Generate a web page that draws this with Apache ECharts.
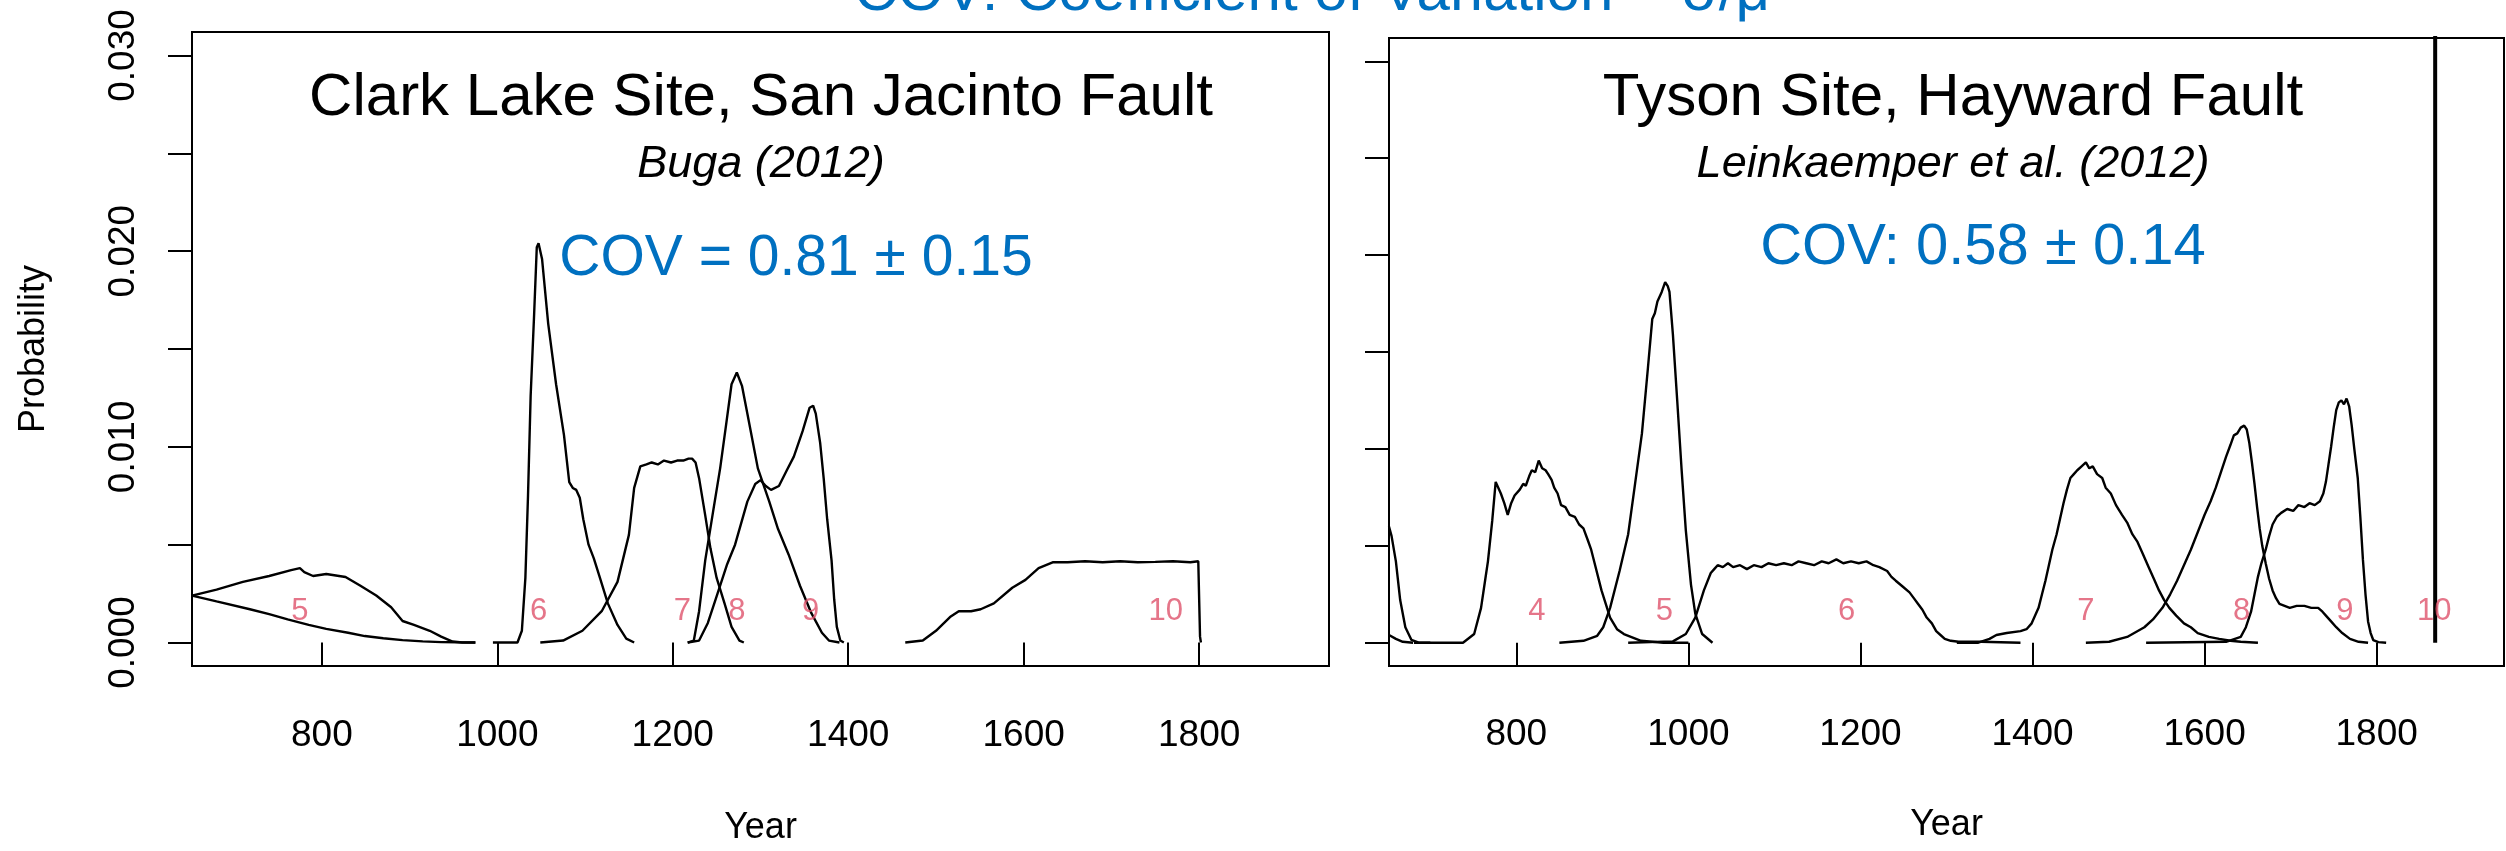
<!DOCTYPE html>
<html>
<head>
<meta charset="utf-8">
<script src="https://cdn.jsdelivr.net/npm/echarts@6/dist/echarts.min.js"></script>
<style>
  html, body { margin: 0; padding: 0; background: #ffffff; }
  #chart { width: 2506px; height: 851px; }
</style>
</head>
<body>
<div id="chart"></div>
<script>
// Axis ticks and labels
const yearTicks = [800, 1000, 1200, 1400, 1600, 1800];
const probTicks = [0, 0.005, 0.010, 0.015, 0.020, 0.025, 0.030];
const probLabels = [0, 0.010, 0.020, 0.030];

// Clark Lake site, San Jacinto fault: event date probability curves
const clark5aYears = [652, 680, 710, 740, 765, 775, 780, 790, 805, 827, 844, 862, 879, 892, 905, 923, 936, 949, 960, 975];
const clark5aProbs = [0.0024, 0.0027, 0.0031, 0.0034, 0.0037, 0.0038, 0.0036, 0.0034, 0.0035, 0.00335, 0.0029, 0.0024, 0.0018, 0.0011, 0.0009, 0.0006, 0.0003, 0.00005, 0, 0];
const clark5bYears = [652, 680, 718, 740, 761, 785, 805, 830, 849, 870, 892, 915, 936, 955, 975];
const clark5bProbs = [0.0024, 0.0021, 0.0017, 0.00145, 0.00118, 0.0009, 0.0007, 0.0005, 0.00033, 0.00022, 0.00012, 0.00006, 0.00002, 0.00001, 0];
const clark6Years = [995, 1023, 1028, 1032, 1035, 1038, 1042, 1045, 1047, 1051, 1058, 1067, 1076, 1082, 1086, 1090, 1094, 1098, 1104, 1110, 1117, 1126, 1137, 1147, 1156];
const clark6Probs = [0, 0, 0.0006, 0.0033, 0.0075, 0.0126, 0.0168, 0.0202, 0.0204, 0.0196, 0.0163, 0.0132, 0.0106, 0.0082, 0.0079, 0.0078, 0.0074, 0.0063, 0.0050, 0.0043, 0.0033, 0.0020, 0.0009, 0.0002, 0];
const clark7Years = [1049, 1075, 1097, 1119, 1137, 1150, 1156, 1163, 1170, 1176, 1183, 1190, 1198, 1205, 1212, 1218, 1222, 1226, 1230, 1237, 1243, 1250, 1259, 1267, 1276, 1281];
const clark7Probs = [0, 0.0001, 0.0006, 0.0016, 0.0031, 0.0055, 0.0079, 0.0090, 0.0091, 0.0092, 0.0091, 0.0093, 0.0092, 0.0093, 0.0093, 0.0094, 0.0094, 0.0092, 0.0084, 0.0065, 0.0048, 0.0033, 0.0020, 0.0008, 0.0001, 0];
const clark8Years = [1217, 1224, 1230, 1237, 1246, 1254, 1261, 1267, 1273, 1279, 1285, 1297, 1310, 1320, 1332, 1345, 1358, 1370, 1378, 1390];
const clark8Probs = [0, 0.0001, 0.0016, 0.0042, 0.0067, 0.0089, 0.0112, 0.0132, 0.0138, 0.0131, 0.0117, 0.0089, 0.0072, 0.0058, 0.0045, 0.0029, 0.0015, 0.0005, 0.0001, 0];
const clark9Years = [1217, 1230, 1240, 1251, 1262, 1271, 1285, 1294, 1300, 1306, 1312, 1321, 1330, 1338, 1348, 1356, 1360, 1363, 1368, 1372, 1376, 1381, 1384, 1387, 1391, 1395];
const clark9Probs = [0, 0.0001, 0.0010, 0.0025, 0.0040, 0.0050, 0.0072, 0.0081, 0.0083, 0.0080, 0.0078, 0.0080, 0.0088, 0.0095, 0.0108, 0.0120, 0.0121, 0.0117, 0.0102, 0.0084, 0.0063, 0.0042, 0.0022, 0.0008, 0.0001, 0];
const clark10Years = [1465, 1485, 1500, 1516, 1526, 1540, 1551, 1566, 1587, 1602, 1617, 1633, 1650, 1670, 1690, 1710, 1730, 1750, 1770, 1790, 1799, 1801, 1802];
const clark10Probs = [0, 0.0001, 0.0006, 0.0013, 0.0016, 0.0016, 0.0017, 0.0020, 0.0028, 0.0032, 0.0038, 0.0041, 0.0041, 0.00415, 0.0041, 0.00415, 0.0041, 0.00412, 0.00415, 0.0041, 0.00415, 0.0003, 0];
const clarkLabelYears = [775, 1047, 1211, 1273, 1357, 1762];
const clarkLabelNames = ['5', '6', '7', '8', '9', '10'];

// Tyson site, Hayward fault: event date probability curves
const tyson2Years = [652, 660, 668, 680];
const tyson2Probs = [0.0004, 0.0002, 0.00005, 0];
const tyson3Years = [652, 655, 660, 665, 671, 678, 686, 700];
const tyson3Probs = [0.0060, 0.0055, 0.0042, 0.0022, 0.0008, 0.00015, 0.00002, 0];
const tyson4Years = [681, 738, 751, 759, 764, 767, 772, 776, 779, 782, 786, 790, 794, 798, 804, 808, 811, 815, 818, 822, 826, 830, 834, 837, 841, 844, 848, 852, 857, 862, 868, 873, 878, 883, 887, 891, 899, 909, 917, 925, 945, 971, 1000];
const tyson4Probs = [0, 0, 0.00045, 0.0018, 0.0033, 0.0042, 0.0063, 0.0083, 0.0080, 0.0077, 0.0072, 0.0066, 0.0072, 0.0076, 0.0079, 0.0082, 0.0081, 0.0086, 0.0089, 0.0088, 0.0094, 0.0090, 0.0089, 0.0087, 0.0084, 0.0080, 0.0077, 0.0071, 0.0070, 0.0066, 0.0065, 0.0061, 0.0059, 0.0053, 0.0048, 0.0041, 0.0027, 0.0013, 0.0007, 0.00045, 0.0001, 0, 0];
const tyson5Years = [850, 878, 894, 901, 909, 920, 930, 938, 946, 953, 958, 961, 964, 969, 971, 973, 976, 978, 982, 987, 992, 997, 1003, 1008, 1016, 1028];
const tyson5Probs = [0, 0.0001, 0.00036, 0.0008, 0.0018, 0.0037, 0.0056, 0.0082, 0.0108, 0.0142, 0.0167, 0.0170, 0.0176, 0.0181, 0.0180, 0.0186, 0.0184, 0.0181, 0.0159, 0.0125, 0.0090, 0.0058, 0.0030, 0.0015, 0.00045, 0];
const tyson6Years = [930, 982, 997, 1008, 1018, 1026, 1030, 1034, 1040, 1046, 1052, 1060, 1068, 1076, 1085, 1093, 1102, 1111, 1120, 1128, 1137, 1146, 1155, 1163, 1172, 1180, 1189, 1198, 1207, 1215, 1222, 1231, 1236, 1241, 1249, 1257, 1262, 1267, 1272, 1277, 1283, 1288, 1293, 1298, 1305, 1314, 1340, 1386];
const tyson6Probs = [0, 0.00007, 0.00045, 0.0013, 0.0027, 0.0036, 0.0038, 0.0040, 0.0039, 0.0041, 0.0039, 0.0040, 0.0038, 0.0040, 0.0039, 0.0041, 0.0040, 0.0041, 0.0040, 0.0042, 0.0041, 0.0040, 0.0042, 0.0041, 0.0043, 0.0041, 0.0042, 0.0041, 0.0042, 0.0040, 0.0039, 0.0037, 0.0034, 0.0032, 0.0029, 0.0026, 0.0023, 0.0020, 0.0017, 0.0013, 0.0010, 0.0006, 0.0004, 0.0002, 0.0001, 0.00005, 0.00005, 0];
const tyson7Years = [1312, 1337, 1350, 1358, 1370, 1386, 1393, 1399, 1403, 1407, 1411, 1415, 1419, 1423, 1428, 1432, 1436, 1440, 1444, 1448, 1452, 1457, 1462, 1466, 1470, 1475, 1481, 1485, 1491, 1497, 1504, 1510, 1516, 1522, 1528, 1535, 1541, 1547, 1553, 1559, 1567, 1576, 1584, 1592, 1605, 1617, 1630, 1642, 1662];
const tyson7Probs = [0, 0, 0.0002, 0.0004, 0.0005, 0.0006, 0.0007, 0.0010, 0.0014, 0.0018, 0.0025, 0.0032, 0.0040, 0.0048, 0.0056, 0.0064, 0.0072, 0.0079, 0.0085, 0.0087, 0.0089, 0.0091, 0.0093, 0.0090, 0.0091, 0.0087, 0.0085, 0.0080, 0.0077, 0.0071, 0.0066, 0.0062, 0.0056, 0.0052, 0.0046, 0.0039, 0.0033, 0.0027, 0.0022, 0.0018, 0.0014, 0.0010, 0.0008, 0.0005, 0.0003, 0.0002, 0.0001, 0.00005, 0];
const tyson8Years = [1462, 1489, 1510, 1530, 1540, 1551, 1560, 1568, 1576, 1584, 1592, 1600, 1607, 1613, 1619, 1625, 1630, 1634, 1638, 1642, 1646, 1649, 1652, 1655, 1658, 1661, 1664, 1667, 1671, 1675, 1679, 1683, 1687, 1693, 1699, 1707, 1716, 1724, 1732, 1737, 1741, 1747, 1753, 1760, 1769, 1779, 1790];
const tyson8Probs = [0, 0.00005, 0.0003, 0.0008, 0.0012, 0.0018, 0.0025, 0.0032, 0.0040, 0.0048, 0.0057, 0.0066, 0.0073, 0.0080, 0.0088, 0.0096, 0.0102, 0.0107, 0.0108, 0.0111, 0.0112, 0.0110, 0.0103, 0.0093, 0.0082, 0.0070, 0.0059, 0.0050, 0.0041, 0.0033, 0.0027, 0.0023, 0.0020, 0.0019, 0.0018, 0.0019, 0.0019, 0.0018, 0.0018, 0.0016, 0.0014, 0.0011, 0.0008, 0.0005, 0.0002, 0.00005, 0];
const tyson9Years = [1532, 1625, 1642, 1648, 1654, 1658, 1662, 1666, 1671, 1675, 1679, 1684, 1689, 1696, 1703, 1709, 1716, 1722, 1728, 1734, 1738, 1741, 1744, 1747, 1750, 1753, 1756, 1759, 1762, 1765, 1768, 1771, 1774, 1778, 1781, 1784, 1787, 1790, 1793, 1796, 1802, 1811];
const tyson9Probs = [0, 0.00005, 0.0003, 0.0008, 0.0016, 0.0025, 0.0034, 0.0041, 0.0048, 0.0055, 0.0061, 0.0065, 0.0067, 0.0069, 0.0068, 0.0071, 0.0070, 0.0072, 0.0071, 0.0073, 0.0077, 0.0083, 0.0092, 0.0101, 0.0111, 0.0120, 0.0124, 0.0125, 0.0123, 0.0126, 0.0122, 0.0112, 0.0100, 0.0085, 0.0065, 0.0043, 0.0025, 0.0011, 0.0005, 0.00014, 0.00003, 0];
const tyson10Years = [1868, 1868];
const tyson10Probs = [0, 0.05];
const tysonLabelYears = [824, 972, 1184, 1462, 1643, 1763, 1867];
const tysonLabelNames = ['4', '5', '6', '7', '8', '9', '10'];
const labelProb = 0.0016;

const FONT = '"Liberation Sans", Arial, Helvetica, sans-serif';
const BLUE = '#0070C0';
const EVENT_RED = '#DF536B';

function curve(years, probs, gridIndex, width) {
  return {
    type: 'line',
    xAxisIndex: gridIndex,
    yAxisIndex: gridIndex,
    data: years.map((y, i) => [y, probs[i]]),
    showSymbol: false,
    symbol: 'none',
    smooth: false,
    clip: true,
    silent: true,
    lineStyle: { color: '#000000', width: width || 2.4 },
    z: 3
  };
}

function eventLabels(years, names, gridIndex) {
  return {
    type: 'scatter',
    xAxisIndex: gridIndex,
    yAxisIndex: gridIndex,
    symbolSize: 0,
    silent: true,
    data: years.map((y, i) => ({ value: [y, labelProb], name: names[i] })),
    label: {
      show: true,
      position: 'inside',
      formatter: '{b}',
      color: EVENT_RED,
      fontSize: 31,
      fontFamily: FONT
    },
    z: 4
  };
}

// Labels and names are centred on their anchor, so margin / nameGap are centre distances
function xAxisFor(gridIndex, labelMargin, nameGap) {
  return {
    type: 'value',
    gridIndex: gridIndex,
    min: 652,
    max: 1948,
    axisLine: { show: false },
    splitLine: { show: false },
    axisTick: { show: true, length: 24, customValues: yearTicks, lineStyle: { color: '#000', width: 2 } },
    axisLabel: {
      show: true,
      customValues: yearTicks,
      color: '#000',
      fontSize: 37,
      fontFamily: FONT,
      margin: labelMargin,
      verticalAlign: 'middle',
      formatter: v => String(v)
    },
    name: 'Year',
    nameLocation: 'middle',
    nameGap: nameGap,
    nameTextStyle: { color: '#000', fontSize: 36, fontFamily: FONT, verticalAlign: 'middle' }
  };
}

function yAxisFor(gridIndex, showLabels) {
  const axis = {
    type: 'value',
    gridIndex: gridIndex,
    min: -0.0012,
    max: 0.0312,
    axisLine: { show: false },
    splitLine: { show: false },
    axisTick: { show: true, length: 24, customValues: probTicks, lineStyle: { color: '#000', width: 2 } },
    axisLabel: {
      show: showLabels,
      customValues: probLabels,
      rotate: 90,
      color: '#000',
      fontSize: 37,
      fontFamily: FONT,
      margin: 68,
      verticalAlign: 'middle',
      formatter: v => v.toFixed(3)
    }
  };
  if (showLabels) {
    axis.name = 'Probability';
    axis.nameLocation = 'middle';
    axis.nameRotate = 90;
    axis.nameGap = 158;
    axis.nameTextStyle = { color: '#000', fontSize: 36, fontFamily: FONT, verticalAlign: 'middle' };
  }
  return axis;
}

const chart = echarts.init(document.getElementById('chart'), null, { renderer: 'canvas' });

chart.setOption({
  animation: false,
  backgroundColor: '#ffffff',
  grid: [
    { left: 192, top: 32, width: 1137, height: 641, show: true, borderColor: '#000', borderWidth: 2, backgroundColor: 'transparent' },
    { left: 1389, top: 38, width: 1115, height: 628, show: true, borderColor: '#000', borderWidth: 2, backgroundColor: 'transparent' }
  ],
  xAxis: [xAxisFor(0, 70, 162), xAxisFor(1, 69, 159)],
  yAxis: [yAxisFor(0, true), yAxisFor(1, false)],
  series: [
    curve(clark5aYears, clark5aProbs, 0),
    curve(clark5bYears, clark5bProbs, 0),
    curve(clark6Years, clark6Probs, 0),
    curve(clark7Years, clark7Probs, 0),
    curve(clark8Years, clark8Probs, 0),
    curve(clark9Years, clark9Probs, 0),
    curve(clark10Years, clark10Probs, 0),
    eventLabels(clarkLabelYears, clarkLabelNames, 0),
    curve(tyson2Years, tyson2Probs, 1),
    curve(tyson3Years, tyson3Probs, 1),
    curve(tyson4Years, tyson4Probs, 1),
    curve(tyson5Years, tyson5Probs, 1),
    curve(tyson6Years, tyson6Probs, 1),
    curve(tyson7Years, tyson7Probs, 1),
    curve(tyson8Years, tyson8Probs, 1),
    curve(tyson9Years, tyson9Probs, 1),
    curve(tyson10Years, tyson10Probs, 1, 4),
    eventLabels(tysonLabelYears, tysonLabelNames, 1)
  ],
  graphic: [
    { type: 'text', x: 1312, y: -7, silent: true,
      style: { text: 'COV: Coefficient of Variation = σ/μ', fill: BLUE, font: '60px ' + FONT, align: 'center', verticalAlign: 'middle' } },
    { type: 'text', x: 761, y: 98, silent: true,
      style: { text: 'Clark Lake Site, San Jacinto Fault', fill: '#000', font: '60px ' + FONT, align: 'center', verticalAlign: 'middle' } },
    { type: 'text', x: 761, y: 164, silent: true,
      style: { text: 'Buga (2012)', fill: '#000', font: 'italic 45px ' + FONT, align: 'center', verticalAlign: 'middle' } },
    { type: 'text', x: 796, y: 259, silent: true,
      style: { text: 'COV = 0.81 ± 0.15', fill: BLUE, font: '57px ' + FONT, align: 'center', verticalAlign: 'middle' } },
    { type: 'text', x: 1953, y: 98, silent: true,
      style: { text: 'Tyson Site, Hayward Fault', fill: '#000', font: '60px ' + FONT, align: 'center', verticalAlign: 'middle' } },
    { type: 'text', x: 1953, y: 164, silent: true,
      style: { text: 'Leinkaemper et al. (2012)', fill: '#000', font: 'italic 45px ' + FONT, align: 'center', verticalAlign: 'middle' } },
    { type: 'text', x: 1983, y: 248, silent: true,
      style: { text: 'COV: 0.58 ± 0.14', fill: BLUE, font: '58px ' + FONT, align: 'center', verticalAlign: 'middle' } }
  ]
});
</script>
</body>
</html>
